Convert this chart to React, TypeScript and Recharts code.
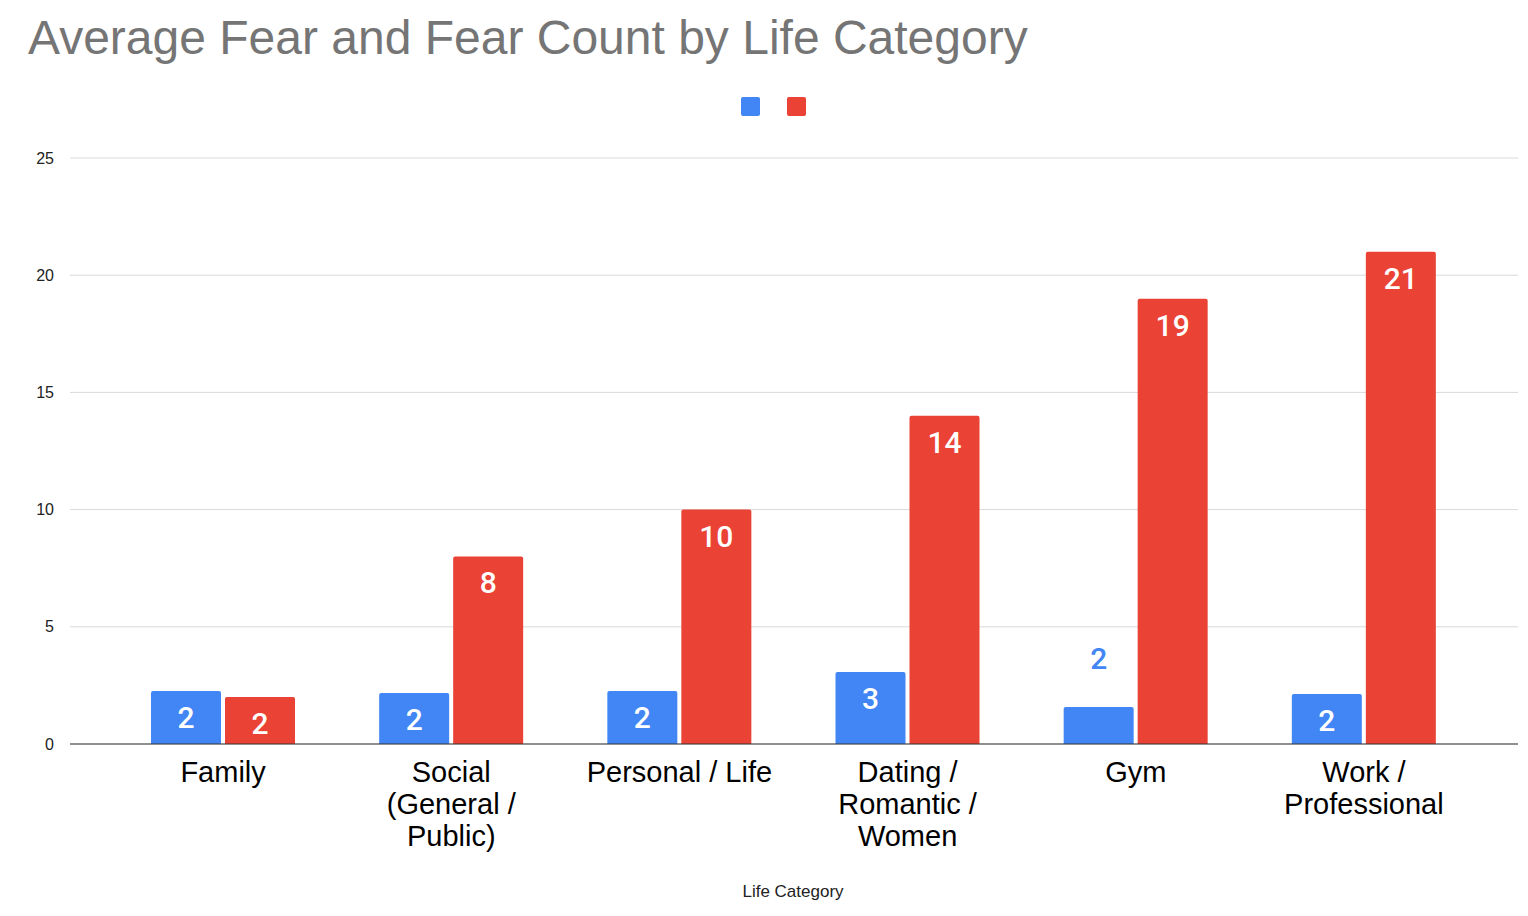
import { BarChart, Bar, XAxis, YAxis, CartesianGrid, LabelList } from "recharts";

const categories = [
  "Family",
  "Social\n(General /\nPublic)",
  "Personal / Life",
  "Dating /\nRomantic /\nWomen",
  "Gym",
  "Work /\nProfessional",
];
const averageFear = [2.26, 2.18, 2.26, 3.07, 1.58, 2.13];
const fearCount = [2, 8, 10, 14, 19, 21];
const yTicks = [0, 5, 10, 15, 20, 25];

const BLUE = "#4285f4";
const RED = "#ea4335";

const data = categories.map((c, i) => ({
  category: c,
  avg: averageFear[i],
  count: fearCount[i],
}));

const XTick = (props: any) => {
  const { x, y, payload } = props;
  const lines = String(payload.value).split("\n");
  return (
    <text x={x} y={y} textAnchor="middle" fontSize={29} fill="#000" fontFamily="Liberation Sans, Arial">
      {lines.map((l, i) => (
        <tspan key={i} x={x} dy={i === 0 ? 30 : 32}>
          {l}
        </tspan>
      ))}
    </text>
  );
};

const makeLabel = (color: string) => (props: any) => {
  const { x, y, width, height, value } = props;
  const inside = height >= 40;
  return (
    <text
      x={x + width / 2}
      y={inside ? y + 37 : y - 38}
      textAnchor="middle"
      fontSize={30}
      fontWeight={500}
      fill={inside ? "#fff" : color}
      fontFamily="Roboto, Liberation Sans, Arial"
    >
      {Math.round(value)}
    </text>
  );
};

export default function App() {
  return (
    <div style={{ position: "absolute", left: 0, top: 0, width: 1528, height: 916, background: "#fff", fontFamily: "Liberation Sans, Arial" }}>
      <div style={{ position: "absolute", left: 28, top: 10, fontSize: 48, color: "#757575" }}>
        Average Fear and Fear Count by Life Category
      </div>
      <div style={{ position: "absolute", left: 741, top: 97, width: 19, height: 19, background: BLUE, borderRadius: 2 }} />
      <div style={{ position: "absolute", left: 787, top: 97, width: 19, height: 19, background: RED, borderRadius: 2 }} />
      <div style={{ position: "absolute", left: 0, width: 1586, top: 882, textAlign: "center", fontSize: 17, color: "#222" }}>
        Life Category
      </div>
      <BarChart
        width={1528}
        height={916}
        data={data}
        margin={{ top: 158, right: 10, left: 10, bottom: 0 }}
        barGap={4}
        barSize={70}
        style={{ position: "absolute", left: 0, top: 0 }}
      >
        <CartesianGrid vertical={false} stroke="#d9d9d9" />
        <XAxis
          dataKey="category"
          interval={0}
          tick={<XTick />}
          tickLine={false}
          axisLine={{ stroke: "#333" }}
          padding={{ left: 39, right: 40 }}
          height={172}
        />
        <YAxis
          width={60}
          domain={[0, 25]}
          ticks={yTicks}
          axisLine={false}
          tickLine={false}
          tickMargin={10}
          tick={{ fontSize: 16, fill: "#222" }}
        />
        <Bar dataKey="avg" fill={BLUE} isAnimationActive={false} radius={[2, 2, 0, 0]}>
          <LabelList dataKey="avg" content={makeLabel(BLUE)} />
        </Bar>
        <Bar dataKey="count" fill={RED} isAnimationActive={false} radius={[2, 2, 0, 0]}>
          <LabelList dataKey="count" content={makeLabel(RED)} />
        </Bar>
      </BarChart>
    </div>
  );
}
